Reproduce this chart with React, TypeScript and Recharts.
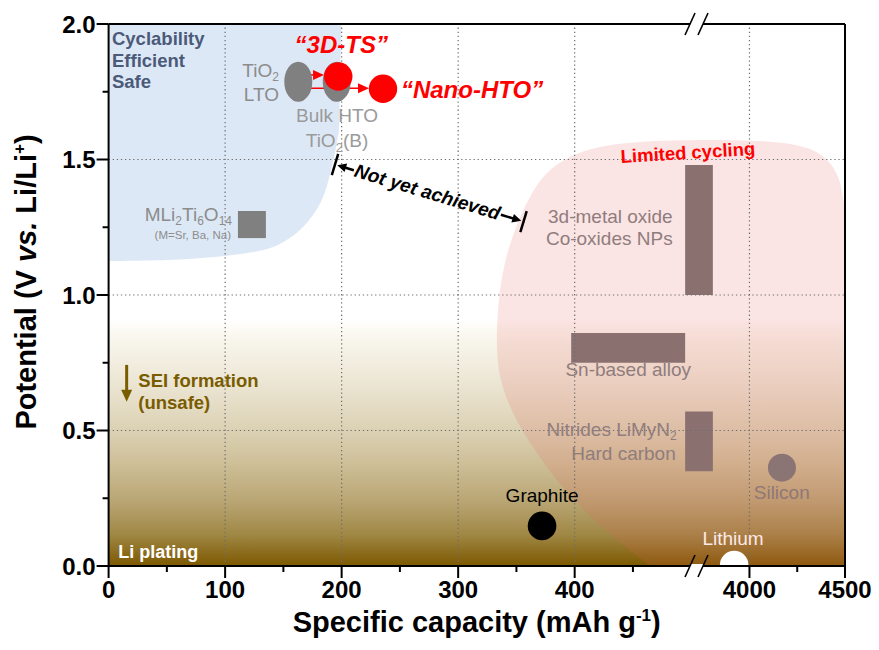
import React from 'react';
import {
  ComposedChart,
  XAxis,
  YAxis,
  Scatter,
  ReferenceArea,
  ReferenceLine,
  ReferenceDot,
} from 'recharts';

const FONT = '"Liberation Sans", Arial, Helvetica, sans-serif';
const W = 879;
const H = 650;

// ---- Broken capacity axis -------------------------------------------------
// 0–500 mAh g-1 runs linearly; after the break the axis restarts at 4000.
const AXIS_END = 632;
const toAxis = (c: number) => (c <= 500 ? c : 550 + (c - 4000) * 0.164);
const BREAK_AT = 505; // axis units

const capacityMajor = [0, 100, 200, 300, 400, 4000, 4500];
const capacityMinor = [50, 150, 250, 350, 450, 4250];
const capacityGrid = [100, 200, 300, 400, 4000];
const potentialMajor = [0, 0.5, 1, 1.5, 2];
const potentialMinor = [0.25, 0.75, 1.25, 1.75];
const potentialGrid = [0.5, 1, 1.5];

// ---- Electrode materials (capacity in mAh g-1, potential in V vs Li/Li+) ---
const titanates = [
  { name: 'TiO2 / LTO', capacity: 162.8, potential: 1.787 },
  { name: 'Bulk HTO / TiO2(B)', capacity: 195.8, potential: 1.787 },
];
const nanoTitanates = [
  { name: '3D-TS', capacity: 197.1, potential: 1.806 },
  { name: 'Nano-HTO', capacity: 235.5, potential: 1.761 },
];
const graphite = [{ name: 'Graphite', capacity: 372, potential: 0.148 }];
const silicon = [{ name: 'Silicon', capacity: 4170, potential: 0.363 }];
const lithium = [{ name: 'Lithium', capacity: 3920, potential: 0 }];

// Capacity / potential windows: [x1, x2, y1, y2] in axis units
const mliWindow = [111, 135, 1.21, 1.31];
const metalOxideWindow = [494.8, 518.6, 1.0, 1.48];
const snAlloyWindow = [397, 494.8, 0.75, 0.86];
const nitrideWindow = [494.8, 518.6, 0.35, 0.57];

// ---- Zones (outlines in axis units) ----------------------------------------
const seiZoneTop = 0.91;
const safeZoneEdge = [[0, 1.125], [0, 2], [199.7, 2]];
const safeZoneCurve = [
  [199.7, 2], [198.0, 1.646], [196.3, 1.572], [192.9, 1.498], [187.2, 1.4],
  [180.0, 1.326], [167.1, 1.252], [152.8, 1.203], [132.8, 1.166],
  [92.8, 1.141], [49.9, 1.129], [0, 1.125],
];
const limitedZoneEdge = [[632, 1.295], [632, 0], [464.7, 0]];
const limitedZoneCurve = [
  [464.7, 0], [436.4, 0.096], [410.6, 0.196], [384.9, 0.317], [364.2, 0.439],
  [347.1, 0.565], [336.8, 0.686], [333.3, 0.815], [335.0, 0.982],
  [340.2, 1.118], [348.8, 1.24], [361.7, 1.362], [376.3, 1.45], [396.0, 1.509],
  [421.8, 1.546], [456.1, 1.565], [513.6, 1.572], [570.3, 1.565],
  [599.4, 1.542], [616.6, 1.498], [626.0, 1.435], [630.2, 1.362], [632, 1.295],
];

// Arrows (axis units)
const upgradeArrows = [
  [[164.3, 1.812], [184.9, 1.812]],
  [[162.3, 1.763], [223.5, 1.763]],
];
const gapSpan = [[194.3, 1.4815], [356.1, 1.271]];
const seiArrow = [[15.5, 0.742], [15.5, 0.606]];

const toPoints = (arr: { name: string; capacity: number; potential: number }[]) =>
  arr.map((d) => ({ ...d, x: toAxis(d.capacity), y: d.potential }));

// Catmull-Rom curve through pixel points (open)
function smooth(pts: number[][]) {
  let d = '';
  for (let i = 0; i < pts.length - 1; i++) {
    const p0 = pts[i - 1] || pts[i];
    const p1 = pts[i];
    const p2 = pts[i + 1];
    const p3 = pts[i + 2] || p2;
    const c1x = p1[0] + (p2[0] - p0[0]) / 6;
    const c1y = p1[1] + (p2[1] - p0[1]) / 6;
    const c2x = p2[0] - (p3[0] - p1[0]) / 6;
    const c2y = p2[1] - (p3[1] - p1[1]) / 6;
    d += ` C${c1x},${c1y} ${c2x},${c2y} ${p2[0]},${p2[1]}`;
  }
  return d;
}

function zoneBounds(edge: number[][], curve: number[][]) {
  const all = [...edge, ...curve];
  const xs = all.map((p) => p[0]);
  const ys = all.map((p) => p[1]);
  return { x1: Math.min(...xs), x2: Math.max(...xs), y1: Math.min(...ys), y2: Math.max(...ys) };
}

function zoneShape(edge: number[][], curve: number[][], fill: string, opacity: number) {
  const b = zoneBounds(edge, curve);
  return (p: any) => {
    const map = (pt: number[]) => [
      p.x + ((pt[0] - b.x1) / (b.x2 - b.x1)) * p.width,
      p.y + ((b.y2 - pt[1]) / (b.y2 - b.y1)) * p.height,
    ];
    const e = edge.map(map);
    const c = curve.map(map);
    let d = `M${e[0][0]},${e[0][1]}`;
    for (let i = 1; i < e.length; i++) d += ` L${e[i][0]},${e[i][1]}`;
    d += smooth(c) + ' Z';
    return <path d={d} fill={fill} fillOpacity={opacity} stroke="none" />;
  };
}

function head(tx: number, ty: number, ux: number, uy: number, len: number, wid: number, fill: string) {
  const bx = tx - ux * len;
  const by = ty - uy * len;
  const px = -uy;
  const py = ux;
  return (
    <polygon
      points={`${tx},${ty} ${bx + (px * wid) / 2},${by + (py * wid) / 2} ${bx - (px * wid) / 2},${by - (py * wid) / 2}`}
      fill={fill}
    />
  );
}

function arrowShape(color: string, width: number, len: number, wid: number) {
  return (p: any) => {
    const { x1, y1, x2, y2 } = p;
    const L = Math.hypot(x2 - x1, y2 - y1);
    const ux = (x2 - x1) / L;
    const uy = (y2 - y1) / L;
    return (
      <g>
        <line x1={x1} y1={y1} x2={x2 - ux * len * 0.7} y2={y2 - uy * len * 0.7} stroke={color} strokeWidth={width} />
        {head(x2, y2, ux, uy, len, wid, color)}
      </g>
    );
  };
}

const gapShape = (p: any) => {
  const { x1, y1, x2, y2 } = p;
  const dx = x2 - x1;
  const dy = y2 - y1;
  const L = Math.hypot(dx, dy);
  const c = dx / L;
  const s = dy / L;
  const at = (t: number, off = 0) => [x1 + dx * t - s * off, y1 + dy * t + c * off];
  const ang = (Math.atan2(dy, dx) * 180) / Math.PI;
  const b0a = at(0, -11);
  const b0b = at(0, 11);
  const b1a = at(1, -11);
  const b1b = at(1, 11);
  const la = at(0.1);
  const lt = at(0.012);
  const ra = at(0.88);
  const rt = at(0.988);
  const txt = at(0.49, 6);
  return (
    <g>
      <line x1={b0a[0]} y1={b0a[1]} x2={b0b[0]} y2={b0b[1]} stroke="#000" strokeWidth={2.5} />
      <line x1={b1a[0]} y1={b1a[1]} x2={b1b[0]} y2={b1b[1]} stroke="#000" strokeWidth={2.5} />
      <line x1={la[0]} y1={la[1]} x2={lt[0] + c * 6} y2={lt[1] + s * 6} stroke="#000" strokeWidth={2.5} />
      {head(lt[0], lt[1], -c, -s, 9, 9, '#000')}
      <line x1={ra[0]} y1={ra[1]} x2={rt[0] - c * 6} y2={rt[1] - s * 6} stroke="#000" strokeWidth={2.5} />
      {head(rt[0], rt[1], c, s, 9, 9, '#000')}
      <text
        x={txt[0]}
        y={txt[1]}
        transform={`rotate(${ang} ${txt[0]} ${txt[1]})`}
        textAnchor="middle"
        fontFamily={FONT}
        fontWeight="bold"
        fontStyle="italic"
        fontSize={19}
        fill="#000"
      >
        Not yet achieved
      </text>
    </g>
  );
};

const breakShape = (p: any) => {
  const { cx, cy } = p;
  return (
    <g>
      <rect x={cx - 7} y={cy - 2} width={13} height={4} fill="#fff" />
      <line x1={cx - 12} y1={cy + 11} x2={cx - 2} y2={cy - 11} stroke="#000" strokeWidth={1.6} />
      <line x1={cx + 1} y1={cy + 11} x2={cx + 11} y2={cy - 11} stroke="#000" strokeWidth={1.6} />
    </g>
  );
};

const note = (id: string, x: number, y: number, draw: (cx: number, cy: number) => React.ReactNode) => (
  <ReferenceDot key={id} x={x} y={y} r={0} ifOverflow="visible" shape={(p: any) => <g>{draw(p.cx, p.cy)}</g>} />
);

const XTick = (props: any) => {
  const { x, y, payload } = props;
  const axisVal = payload.value;
  const idx = capacityMajor.map(toAxis).findIndex((v) => Math.abs(v - axisVal) < 1e-6);
  const major = idx >= 0;
  return (
    <g>
      <line x1={x} x2={x} y1={y} y2={y + (major ? 12 : 6)} stroke="#000" strokeWidth={2} />
      {major && (
        <text x={x} y={y + 32} textAnchor="middle" fontFamily={FONT} fontWeight="bold" fontSize={24} fill="#000">
          {capacityMajor[idx]}
        </text>
      )}
    </g>
  );
};

const YTick = (props: any) => {
  const { x, y, payload } = props;
  const v = payload.value;
  const major = potentialMajor.some((m) => Math.abs(m - v) < 1e-6);
  return (
    <g>
      <line x1={x} x2={x - (major ? 12 : 6)} y1={y} y2={y} stroke="#000" strokeWidth={2} />
      {major && (
        <text x={x - 13} y={y + 8.5} textAnchor="end" fontFamily={FONT} fontWeight="bold" fontSize={24} fill="#000">
          {v.toFixed(1)}
        </text>
      )}
    </g>
  );
};

const safeBounds = zoneBounds(safeZoneEdge, safeZoneCurve);
const limitedBounds = zoneBounds(limitedZoneEdge, limitedZoneCurve);

const GRAY = '#8c8c8c';
const ZONE_TEXT = '#8f7d7d';

export default function App() {
  const xTicks = [...capacityMajor, ...capacityMinor].map(toAxis).sort((a, b) => a - b);
  const yTicks = [...potentialMajor, ...potentialMinor].sort((a, b) => a - b);

  return (
    <div style={{ position: 'absolute', left: 0, top: 0, width: W, height: H, background: '#fff' }}>
      <ComposedChart width={W} height={H} margin={{ top: 24, right: 34, bottom: 54, left: 48.6 }}>
        <defs>
          <linearGradient id="seiFade" x1="0" y1="0" x2="0" y2="1">
            <stop offset="0" stopColor="#ffffff" />
            <stop offset="0.055" stopColor="#faf8f0" />
            <stop offset="0.2" stopColor="#f0ebdc" />
            <stop offset="0.33" stopColor="#e6dec8" />
            <stop offset="0.46" stopColor="#dad0b2" />
            <stop offset="0.59" stopColor="#cdbe96" />
            <stop offset="0.74" stopColor="#b9a573" />
            <stop offset="0.87" stopColor="#a08846" />
            <stop offset="1" stopColor="#7d5800" />
          </linearGradient>
        </defs>

        <XAxis
          type="number"
          dataKey="x"
          domain={[0, AXIS_END]}
          allowDataOverflow
          ticks={xTicks}
          interval={0}
          tick={XTick}
          tickLine={false}
          tickSize={0}
          tickMargin={0}
          height={30}
          axisLine={{ stroke: '#000', strokeWidth: 2 }}
        />
        <YAxis
          type="number"
          dataKey="y"
          domain={[0, 2]}
          allowDataOverflow
          ticks={yTicks}
          interval={0}
          tick={YTick}
          tickLine={false}
          tickSize={0}
          tickMargin={0}
          width={60}
          axisLine={{ stroke: '#000', strokeWidth: 2 }}
        />

        {/* SEI formation / Li plating fade */}
        <ReferenceArea x1={0} x2={AXIS_END} y1={0} y2={seiZoneTop} fill="url(#seiFade)" fillOpacity={1} stroke="none" />
        {/* Cyclability / efficient / safe zone */}
        <ReferenceArea
          x1={safeBounds.x1}
          x2={safeBounds.x2}
          y1={safeBounds.y1}
          y2={safeBounds.y2}
          shape={zoneShape(safeZoneEdge, safeZoneCurve, '#a9c6e8', 0.4)}
        />
        {/* Limited cycling zone */}
        <ReferenceArea
          x1={limitedBounds.x1}
          x2={limitedBounds.x2}
          y1={limitedBounds.y1}
          y2={limitedBounds.y2}
          shape={zoneShape(limitedZoneEdge, limitedZoneCurve, '#e86060', 0.17)}
        />

        {capacityGrid.map((c) => (
          <ReferenceLine key={`gx${c}`} x={toAxis(c)} stroke="#6e6e6e" strokeWidth={1.2} strokeDasharray="1.3 2.8" />
        ))}
        {potentialGrid.map((v) => (
          <ReferenceLine key={`gy${v}`} y={v} stroke="#6e6e6e" strokeWidth={1.2} strokeDasharray="1.3 2.8" />
        ))}

        {[metalOxideWindow, snAlloyWindow, nitrideWindow].map((w, i) => (
          <ReferenceArea key={`w${i}`} x1={w[0]} x2={w[1]} y1={w[2]} y2={w[3]} fill="#8b7070" fillOpacity={1} stroke="none" />
        ))}
        <ReferenceArea x1={mliWindow[0]} x2={mliWindow[1]} y1={mliWindow[2]} y2={mliWindow[3]} fill="#808080" fillOpacity={1} stroke="none" />

        <Scatter
          data={toPoints(titanates)}
          isAnimationActive={false}
          shape={(p: any) => <ellipse cx={p.cx} cy={p.cy} rx={14} ry={20} fill="#808080" />}
        />
        <Scatter
          data={toPoints(graphite)}
          isAnimationActive={false}
          shape={(p: any) => <circle cx={p.cx} cy={p.cy} r={14.3} fill="#000" />}
        />
        <Scatter
          data={toPoints(silicon)}
          isAnimationActive={false}
          shape={(p: any) => <circle cx={p.cx} cy={p.cy} r={14} fill="#8b7474" />}
        />

        {upgradeArrows.map((s, i) => (
          <ReferenceLine
            key={`up${i}`}
            segment={[{ x: s[0][0], y: s[0][1] }, { x: s[1][0], y: s[1][1] }]}
            shape={arrowShape('#ff0000', 1.6, 11, 10)}
          />
        ))}
        <Scatter
          data={toPoints(nanoTitanates)}
          isAnimationActive={false}
          shape={(p: any) => <circle cx={p.cx} cy={p.cy} r={14.2} fill="#ff0000" />}
        />

        <ReferenceLine
          segment={[{ x: gapSpan[0][0], y: gapSpan[0][1] }, { x: gapSpan[1][0], y: gapSpan[1][1] }]}
          shape={gapShape}
        />
        <ReferenceLine
          segment={[{ x: seiArrow[0][0], y: seiArrow[0][1] }, { x: seiArrow[1][0], y: seiArrow[1][1] }]}
          shape={arrowShape('#7a5c00', 3, 12, 11)}
        />

        {/* frame */}
        <ReferenceLine y={2} stroke="#000" strokeWidth={2} />
        <ReferenceLine x={AXIS_END} stroke="#000" strokeWidth={2} />

        <Scatter
          data={toPoints(lithium)}
          isAnimationActive={false}
          shape={(p: any) => (
            <path d={`M${p.cx - 14.3},${p.cy - 1} A14.3,14.3 0 0 1 ${p.cx + 14.3},${p.cy - 1} Z`} fill="#fff" />
          )}
        />

        {note('brk-top', BREAK_AT, 2, (cx, cy) => breakShape({ cx, cy }))}
        {note('brk-bot', BREAK_AT, 0, (cx, cy) => breakShape({ cx, cy }))}

        {note('cyc', 2.9, 1.9225, (cx, cy) => (
          <text x={cx} y={cy} fontFamily={FONT} fontWeight="bold" fontSize={18.5} fill="#4b5a78">
            <tspan x={cx}>Cyclability</tspan>
            <tspan x={cx} dy={21.6}>Efficient</tspan>
            <tspan x={cx} dy={21.6}>Safe</tspan>
          </text>
        ))}
        {note('3dts', 199.7, 1.892, (cx, cy) => (
          <text x={cx} y={cy} textAnchor="middle" fontFamily={FONT} fontWeight="bold" fontStyle="italic" fontSize={24} fill="#ff0000">
            “3D-TS”
          </text>
        ))}
        {note('nano', 250.9, 1.726, (cx, cy) => (
          <text x={cx} y={cy} fontFamily={FONT} fontWeight="bold" fontStyle="italic" fontSize={24} fill="#ff0000">
            “Nano-HTO”
          </text>
        ))}
        {note('lto', 146.2, 1.8, (cx, cy) => (
          <g fontFamily={FONT} fontSize={19} fill={GRAY}>
            <text x={cx} y={cy - 1} textAnchor="end">
              TiO<tspan dy={4} fontSize={12}>2</tspan>
            </text>
            <text x={cx} y={cy + 23} textAnchor="end">LTO</text>
          </g>
        ))}
        {note('hto', 196.0, 1.64, (cx, cy) => (
          <g fontFamily={FONT} fontSize={19} fill="#9a9a9a">
            <text x={cx} y={cy} textAnchor="middle">Bulk HTO</text>
            <text x={cx} y={cy + 25} textAnchor="middle">
              TiO<tspan dy={5} fontSize={13}>2</tspan>
              <tspan dy={-5}>(B)</tspan>
            </text>
          </g>
        ))}
        {note('mli', 105.9, 1.27, (cx, cy) => (
          <g fontFamily={FONT} fill={GRAY}>
            <text x={cx} y={cy - 1} textAnchor="end" fontSize={19}>
              MLi<tspan dy={4} fontSize={12}>2</tspan>
              <tspan dy={-4}>Ti</tspan>
              <tspan dy={4} fontSize={12}>6</tspan>
              <tspan dy={-4}>O</tspan>
              <tspan dy={4} fontSize={12}>14</tspan>
            </text>
            <text x={cx - 1} y={cy + 17} textAnchor="end" fontSize={11.5}>(M=Sr, Ba, Na)</text>
          </g>
        ))}
        {note('limited', 497.5, 1.502, (cx, cy) => (
          <text
            x={cx}
            y={cy}
            transform={`rotate(-3.5 ${cx} ${cy})`}
            textAnchor="middle"
            fontFamily={FONT}
            fontWeight="bold"
            fontSize={18.5}
            fill="#ff0000"
          >
            Limited cycling
          </text>
        ))}
        {note('oxide', 484.1, 1.267, (cx, cy) => (
          <g fontFamily={FONT} fontSize={19} fill={ZONE_TEXT}>
            <text x={cx} y={cy} textAnchor="end">3d-metal oxide</text>
            <text x={cx} y={cy + 22.3} textAnchor="end">Co-oxides NPs</text>
          </g>
        ))}
        {note('sn', 446.0, 0.701, (cx, cy) => (
          <text x={cx} y={cy} textAnchor="middle" fontFamily={FONT} fontSize={19} fill={ZONE_TEXT}>
            Sn-based alloy
          </text>
        ))}
        {note('nitride', 487.6, 0.477, (cx, cy) => (
          <g fontFamily={FONT} fontSize={19} fill={ZONE_TEXT}>
            <text x={cx} y={cy - 1} textAnchor="end">
              Nitrides LiMyN<tspan dy={4} fontSize={12}>2</tspan>
            </text>
            <text x={cx - 1} y={cy + 23} textAnchor="end">Hard carbon</text>
          </g>
        ))}
        {note('si', 577.7, 0.246, (cx, cy) => (
          <text x={cx} y={cy} textAnchor="middle" fontFamily={FONT} fontSize={19} fill="#8f7777">
            Silicon
          </text>
        ))}
        {note('gr', 372.0, 0.236, (cx, cy) => (
          <text x={cx} y={cy} textAnchor="middle" fontFamily={FONT} fontSize={19} fill="#000">
            Graphite
          </text>
        ))}
        {note('li', 535.9, 0.0775, (cx, cy) => (
          <text x={cx} y={cy} textAnchor="middle" fontFamily={FONT} fontSize={19} fill="#fde8e8">
            Lithium
          </text>
        ))}
        {note('plating', 8.3, 0.0295, (cx, cy) => (
          <text x={cx} y={cy} fontFamily={FONT} fontWeight="bold" fontSize={18} fill="#fff">
            Li plating
          </text>
        ))}
        {note('sei', 25.5, 0.659, (cx, cy) => (
          <g fontFamily={FONT} fontWeight="bold" fontSize={18.5} fill="#7a5c00">
            <text x={cx} y={cy}>SEI formation</text>
            <text x={cx} y={cy + 21.7}>(unsafe)</text>
          </g>
        ))}

        <text x={476.7} y={632} textAnchor="middle" fontFamily={FONT} fontWeight="bold" fontSize={29} fill="#000">
          Specific capacity (mAh g<tspan dy={-11} fontSize={17}>-1</tspan>
          <tspan dy={11}>)</tspan>
        </text>
        <text
          x={36}
          y={282}
          transform="rotate(-90 36 282)"
          textAnchor="middle"
          fontFamily={FONT}
          fontWeight="bold"
          fontSize={29}
          fill="#000"
        >
          Potential (V <tspan fontStyle="italic">vs.</tspan> Li/Li<tspan dy={-11} fontSize={17}>+</tspan>
          <tspan dy={11}>)</tspan>
        </text>
      </ComposedChart>
    </div>
  );
}
